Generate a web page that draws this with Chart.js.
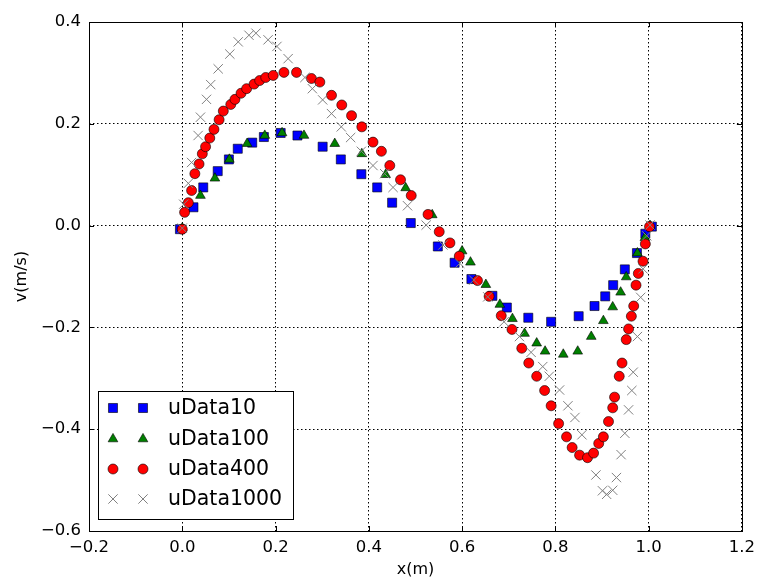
<!DOCTYPE html>
<html>
<head>
<meta charset="utf-8">
<script src="https://cdn.jsdelivr.net/npm/chart.js"></script>
<style>
  html, body { margin: 0; padding: 0; background: #fff; }
  canvas { display: block; }
</style>
</head>
<body>
<canvas id="grafico" width="762" height="582"></canvas>
<script>
// series names
const nombres = ['uData10', 'uData100', 'uData400', 'uData1000'];

// uData10 (squares)
const x10 = [-0.005, 0.024, 0.045, 0.076, 0.100, 0.119, 0.150, 0.175, 0.211, 0.247, 0.301, 0.340, 0.384, 0.418, 0.450, 0.490, 0.548, 0.584, 0.620, 0.665, 0.696, 0.742, 0.791, 0.850, 0.884, 0.907, 0.924, 0.949, 0.975, 0.993, 1.007];
const v10 = [-0.007, 0.036, 0.075, 0.107, 0.130, 0.151, 0.163, 0.174, 0.182, 0.177, 0.155, 0.130, 0.101, 0.075, 0.045, 0.005, -0.041, -0.073, -0.105, -0.138, -0.161, -0.181, -0.189, -0.178, -0.158, -0.139, -0.117, -0.086, -0.054, -0.016, -0.002];

// uData100 (triangles)
const x100 = [0.000, 0.039, 0.070, 0.101, 0.139, 0.177, 0.214, 0.261, 0.327, 0.385, 0.436, 0.479, 0.536, 0.600, 0.618, 0.651, 0.681, 0.708, 0.734, 0.760, 0.778, 0.817, 0.848, 0.877, 0.903, 0.923, 0.940, 0.952, 0.976, 0.992, 1.003];
const v100 = [-0.005, 0.059, 0.093, 0.130, 0.161, 0.177, 0.182, 0.177, 0.161, 0.141, 0.100, 0.074, 0.021, -0.050, -0.072, -0.116, -0.155, -0.183, -0.212, -0.231, -0.247, -0.253, -0.247, -0.218, -0.187, -0.160, -0.131, -0.101, -0.054, -0.024, 0.000];

// uData400 (circles)
const x400 = [0.000, 0.005, 0.013, 0.020, 0.027, 0.036, 0.043, 0.050, 0.059, 0.068, 0.079, 0.088, 0.104, 0.113, 0.126, 0.138, 0.154, 0.166, 0.179, 0.195, 0.218, 0.245, 0.277, 0.295, 0.320, 0.342, 0.363, 0.385, 0.409, 0.427, 0.445, 0.468, 0.491, 0.527, 0.551, 0.574, 0.594, 0.633, 0.658, 0.684, 0.707, 0.728, 0.743, 0.760, 0.777, 0.791, 0.807, 0.824, 0.836, 0.852, 0.869, 0.882, 0.893, 0.903, 0.914, 0.923, 0.927, 0.937, 0.943, 0.952, 0.957, 0.963, 0.968, 0.973, 0.978, 0.988, 0.993, 1.002];
const v400 = [-0.007, 0.026, 0.045, 0.069, 0.102, 0.121, 0.141, 0.155, 0.172, 0.189, 0.208, 0.225, 0.238, 0.248, 0.260, 0.269, 0.278, 0.285, 0.291, 0.295, 0.301, 0.301, 0.289, 0.282, 0.256, 0.237, 0.216, 0.194, 0.164, 0.146, 0.118, 0.090, 0.059, 0.022, -0.012, -0.034, -0.060, -0.108, -0.139, -0.177, -0.204, -0.241, -0.270, -0.296, -0.324, -0.354, -0.389, -0.415, -0.436, -0.451, -0.456, -0.447, -0.428, -0.415, -0.385, -0.358, -0.337, -0.296, -0.270, -0.224, -0.203, -0.178, -0.158, -0.117, -0.094, -0.070, -0.036, -0.002];

// uData1000 (crosses)
const x1000 = [0.000, 0.003, 0.013, 0.020, 0.034, 0.039, 0.052, 0.061, 0.077, 0.102, 0.120, 0.143, 0.158, 0.184, 0.203, 0.227, 0.263, 0.279, 0.301, 0.320, 0.341, 0.361, 0.384, 0.409, 0.434, 0.452, 0.483, 0.523, 0.559, 0.595, 0.625, 0.655, 0.690, 0.723, 0.748, 0.773, 0.787, 0.809, 0.827, 0.842, 0.857, 0.887, 0.901, 0.910, 0.923, 0.931, 0.941, 0.949, 0.957, 0.964, 0.967, 0.976, 0.983, 0.988, 0.996, 1.003];
const v1000 = [-0.005, 0.042, 0.083, 0.124, 0.177, 0.213, 0.248, 0.277, 0.308, 0.337, 0.361, 0.374, 0.378, 0.365, 0.352, 0.328, 0.291, 0.269, 0.247, 0.220, 0.194, 0.173, 0.146, 0.118, 0.102, 0.075, 0.039, 0.001, -0.038, -0.074, -0.107, -0.140, -0.189, -0.218, -0.249, -0.277, -0.296, -0.323, -0.354, -0.377, -0.411, -0.490, -0.521, -0.528, -0.520, -0.495, -0.450, -0.408, -0.362, -0.324, -0.288, -0.218, -0.141, -0.085, -0.020, 0.001];

const FUENTE = '"DejaVu Sans", "Liberation Sans", sans-serif';

function puntos(xs, vs) {
    return xs.map((x, i) => ({ x: x, y: vs[i] }));
}

function etiqueta(v) {
    const r = Math.round(v * 10) / 10;
    return (r < 0 ? '\u2212' : '') + Math.abs(r).toFixed(1);
}

// estilos de marcador (como matplotlib clásico)
const estilos = [
    { pointStyle: 'rect', radius: 6.4, backgroundColor: '#0000ff', borderColor: '#000000', borderWidth: 0.6 },
    { pointStyle: 'triangle', radius: 5.6, backgroundColor: '#008000', borderColor: '#000000', borderWidth: 0.6 },
    { pointStyle: 'circle', radius: 5, backgroundColor: '#ff0000', borderColor: '#000000', borderWidth: 0.6 },
    { pointStyle: 'crossRot', radius: 6.6, backgroundColor: '#808080', borderColor: '#808080', borderWidth: 1 }
];

const series = [puntos(x10, v10), puntos(x100, v100), puntos(x400, v400), puntos(x1000, v1000)];

// marco, ticks interiores y leyenda
const marcoPlugin = {
    id: 'marco',
    afterDraw(chart) {
        const ctx = chart.ctx;
        const a = chart.chartArea;
        const sx = chart.scales.x, sy = chart.scales.y;
        ctx.save();
        ctx.strokeStyle = '#000';
        ctx.lineWidth = 1;
        ctx.beginPath();
        sx.ticks.forEach(t => {
            const px = Math.round(sx.getPixelForValue(t.value)) + 0.5;
            ctx.moveTo(px, a.bottom); ctx.lineTo(px, a.bottom - 5);
            ctx.moveTo(px, a.top); ctx.lineTo(px, a.top + 5);
        });
        sy.ticks.forEach(t => {
            const py = Math.round(sy.getPixelForValue(t.value)) + 0.5;
            ctx.moveTo(a.left, py); ctx.lineTo(a.left + 5, py);
            ctx.moveTo(a.right, py); ctx.lineTo(a.right - 5, py);
        });
        ctx.stroke();
        ctx.strokeRect(Math.round(a.left) + 0.5, Math.round(a.top) + 0.5, Math.round(a.right - a.left), Math.round(a.bottom - a.top));

        // leyenda
        const bx = 98.5, by = 391.5, bw = 195, bh = 128;
        ctx.fillStyle = '#fff';
        ctx.fillRect(bx, by, bw, bh);
        ctx.strokeStyle = '#000';
        ctx.lineWidth = 1;
        ctx.strokeRect(bx, by, bw, bh);
        const filas = [408, 439, 469, 499];
        ctx.font = '20.5px ' + FUENTE;
        ctx.textBaseline = 'middle';
        ctx.textAlign = 'left';
        nombres.forEach((n, i) => {
            const e = estilos[i];
            [113, 143].forEach(mx => {
                ctx.fillStyle = e.backgroundColor;
                ctx.strokeStyle = e.borderColor;
                ctx.lineWidth = e.borderWidth;
                Chart.helpers.drawPoint(ctx, { pointStyle: e.pointStyle, radius: e.radius, rotation: 0, borderWidth: e.borderWidth }, mx, filas[i]);
            });
            ctx.fillStyle = '#000';
            ctx.fillText(n, 168, filas[i] + 1);
        });
        ctx.restore();
    }
};

new Chart(document.getElementById('grafico'), {
    type: 'scatter',
    data: {
        datasets: series.map((d, i) => ({
            label: nombres[i],
            data: d,
            showLine: false,
            order: 3 - i,
            pointStyle: estilos[i].pointStyle,
            pointRadius: estilos[i].radius,
            pointBackgroundColor: estilos[i].backgroundColor,
            pointBorderColor: estilos[i].borderColor,
            pointBorderWidth: estilos[i].borderWidth
        }))
    },
    options: {
        responsive: false,
        animation: false,
        layout: { padding: { top: 22, right: 19, left: 0, bottom: 0 } },
        plugins: { legend: { display: false }, tooltip: { enabled: false } },
        scales: {
            x: {
                type: 'linear', min: -0.2, max: 1.2,
                afterFit: s => { s.height = 51; },
                ticks: { stepSize: 0.2, callback: etiqueta, color: '#000', padding: 7, maxRotation: 0, font: { family: FUENTE, size: 16.5 } },
                grid: { color: '#000', lineWidth: 1, drawTicks: false },
                border: { display: false, dash: [1.5, 2.5] },
                title: { display: true, text: 'x(m)', color: '#000', padding: { top: 0, bottom: 3 }, font: { family: FUENTE, size: 16 } }
            },
            y: {
                type: 'linear', min: -0.6, max: 0.4,
                afterFit: s => { s.width = 89; },
                ticks: { stepSize: 0.2, callback: etiqueta, color: '#000', padding: 8, font: { family: FUENTE, size: 16.5 } },
                grid: { color: '#000', lineWidth: 1, drawTicks: false },
                border: { display: false, dash: [1.5, 2.5] },
                title: { display: true, text: 'v(m/s)', color: '#000', padding: { top: 12, bottom: 0 }, font: { family: FUENTE, size: 16 } }
            }
        }
    },
    plugins: [marcoPlugin]
});
</script>
</body>
</html>
